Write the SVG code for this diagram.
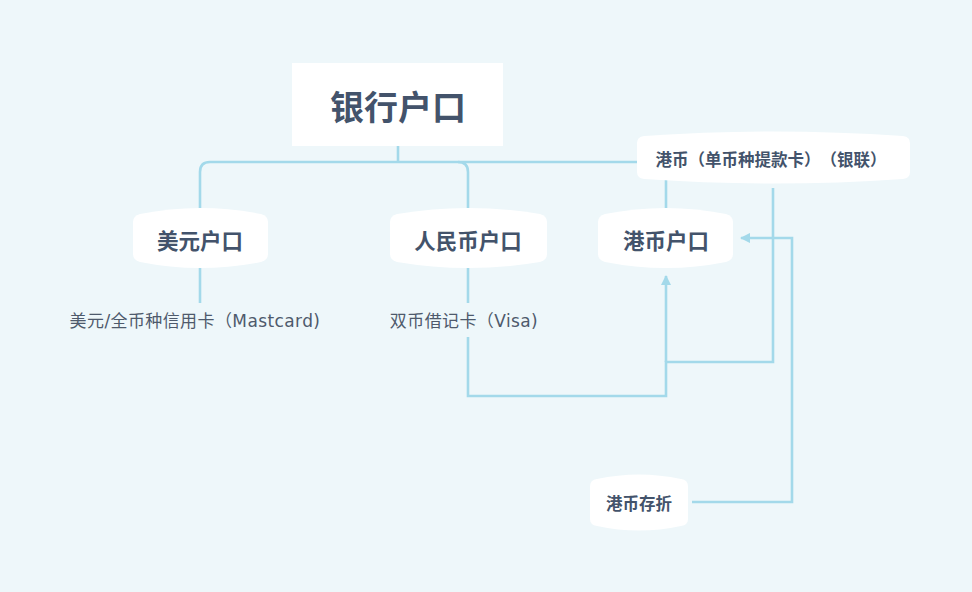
<svg xmlns="http://www.w3.org/2000/svg" width="972" height="592" viewBox="0 0 972 592">
  <style>
    .bg { fill: #eef7fa; }
    .node { fill: #ffffff; }
    .wire { fill: none; stroke: #a3d9ea; stroke-width: 2.6; }
    text { text-spacing-trim: space-all; }
    .title { font-family: "Noto Sans CJK SC", "Open Sans", sans-serif; font-weight: 700; fill: #43536b; text-anchor: middle; dominant-baseline: central; }
    .label { font-family: "DejaVu Sans", "Noto Sans CJK SC", sans-serif; font-size: 17px; letter-spacing: 0.4px; fill: #4e5a6c; text-anchor: middle; dominant-baseline: central; }
  </style>
  <defs>
    <marker id="arrow" viewBox="0 0 10 10" refX="9" refY="5" markerWidth="4" markerHeight="4" orient="auto" markerUnits="strokeWidth">
      <path d="M0,0 L10,5 L0,10 Z" fill="#a3d9ea"/>
    </marker>
  </defs>

  <rect class="bg" x="0" y="0" width="972" height="592"/>

  <!-- connectors -->
  <g id="connectors">
    <!-- root trunk and branches -->
    <path class="wire" d="M398,146 V162"/>
    <path class="wire" d="M398,162 H210 Q200,162 200,172 V210"/>
    <path class="wire" d="M398,162 H458 Q468,162 468,172 V210"/>
    <path class="wire" d="M458,162 H666 V210"/>
    <!-- account to card -->
    <path class="wire" d="M200,266 V303"/>
    <path class="wire" d="M468,266 V303"/>
    <!-- cards into HKD account -->
    <path class="wire" d="M468,337 V396 H666 V362 H773 V188"/>
    <path class="wire" d="M666,362 V276" marker-end="url(#arrow)"/>
    <!-- passbook into HKD account -->
    <path class="wire" d="M692,502 H792 V238 H741" marker-end="url(#arrow)"/>
  </g>

  <!-- root -->
  <g id="bank-account">
    <rect class="node" x="292" y="63" width="211" height="83"/>
    <text class="title" x="398" y="105" font-size="34">银行户口</text>
  </g>

  <g id="usd-account">
    <path class="node" d="M133,222 Q133,216 140,214 Q200,202 261,214 Q268,216 268,222 V254 Q268,260 261,262 Q200,274 140,262 Q133,260 133,254 Z"/>
    <text class="title" x="200" y="239" font-size="21.5">美元户口</text>
  </g>

  <g id="rmb-account">
    <path class="node" d="M390,222 Q390,216 397,214 Q468,202 540,214 Q547,216 547,222 V254 Q547,260 540,262 Q468,274 397,262 Q390,260 390,254 Z"/>
    <text class="title" x="468" y="239" font-size="21.5">人民币户口</text>
  </g>

  <g id="hkd-account">
    <path class="node" d="M598,222 Q598,216 605,214 Q666,202 726,214 Q733,216 733,222 V254 Q733,260 726,262 Q666,274 605,262 Q598,260 598,254 Z"/>
    <text class="title" x="666" y="239" font-size="21.5">港币户口</text>
  </g>

  <g id="hkd-unionpay-card">
    <path class="node" d="M637,143 Q637,137 644,136 Q773,127 903,136 Q910,137 910,143 V172 Q910,178 903,179 Q773,188 644,179 Q637,178 637,172 Z"/>
    <text class="title" x="771" y="159" font-size="16.5">港币（单币种提款卡）（银联）</text>
  </g>

  <g id="hkd-passbook">
    <path class="node" d="M590,486 Q590,480 597,479 Q639,470 681,479 Q688,480 688,486 V519 Q688,525 681,526 Q639,535 597,526 Q590,525 590,519 Z"/>
    <text class="title" x="639" y="503" font-size="16.5">港币存折</text>
  </g>

  <g id="usd-credit-card">
    <text class="label" x="195" y="321">美元/全币种信用卡（Mastcard)</text>
  </g>

  <g id="dual-debit-card">
    <text class="label" x="464" y="321">双币借记卡（Visa)</text>
  </g>
</svg>
